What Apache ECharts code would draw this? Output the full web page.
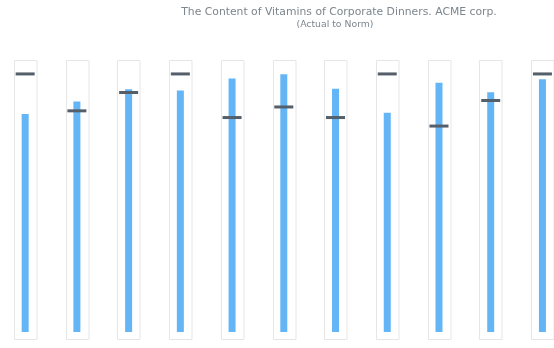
<!DOCTYPE html>
<html>
<head>
<meta charset="utf-8">
<script src="https://cdn.jsdelivr.net/npm/echarts@6/dist/echarts.min.js"></script>
<style>
  html, body { margin: 0; padding: 0; background: #fff; }
  #chart { width: 554px; height: 348px; }
</style>
</head>
<body>
<div id="chart"></div>
<script>
// Vitamin content of corporate dinners: actual amount vs. norm (percent of norm scale)
const vitamins = ['A', 'B1', 'B2', 'B6', 'B12', 'C', 'D', 'E', 'H', 'K', 'PP'];
const actual = [84.5, 89.3, 94.1, 93.6, 98.2, 99.9, 94.3, 85.0, 96.6, 92.9, 97.9];
const norm = [100, 85.7, 92.8, 100, 83.1, 87.2, 83.1, 100, 79.8, 89.7, 100];

const scaleMin = -3.1;
const scaleMax = 105.4;

const chart = echarts.init(document.getElementById('chart'), null, { renderer: 'canvas' });

chart.setOption({
  animation: false,
  backgroundColor: '#ffffff',
  title: [
    {
      text: 'The Content of Vitamins of Corporate Dinners. ACME corp.',
      left: 339,
      top: 7,
      textAlign: 'center',
      padding: 0,
      textStyle: { fontFamily: 'DejaVu Sans', fontSize: 10.8, fontWeight: 'normal', color: '#7c868e' }
    },
    {
      text: '(Actual to Norm)',
      left: 335,
      top: 20,
      textAlign: 'center',
      padding: 0,
      textStyle: { fontFamily: 'DejaVu Sans', fontSize: 9.3, fontWeight: 'normal', color: '#7c868e' }
    }
  ],
  grid: { left: -0.7, width: 569, top: 60, bottom: 8, outerBoundsMode: 'none' },
  xAxis: {
    type: 'category',
    data: vitamins,
    axisLine: { show: false },
    axisTick: { show: false },
    axisLabel: { show: false },
    splitLine: { show: false }
  },
  yAxis: {
    type: 'value',
    min: scaleMin,
    max: scaleMax,
    axisLine: { show: false },
    axisTick: { show: false },
    axisLabel: { show: false },
    splitLine: { show: false }
  },
  series: [
    {
      // frame around each bullet
      type: 'custom',
      z: 1,
      data: vitamins.map((v, i) => i),
      renderItem: function (params, api) {
        const i = api.value(0);
        const top = api.coord([i, scaleMax]);
        const bottom = api.coord([i, scaleMin]);
        const w = 22.5;
        return {
          type: 'rect',
          shape: { x: Math.round(top[0] - w / 2) + 0.5, y: top[1] + 0.5, width: w, height: bottom[1] - top[1] - 1 },
          style: { fill: '#ffffff', stroke: '#e6e6e6', lineWidth: 1 }
        };
      }
    },
    {
      type: 'bar',
      z: 2,
      data: actual,
      barWidth: 7,
      itemStyle: { color: '#64b5f6' }
    },
    {
      type: 'scatter',
      z: 3,
      data: norm,
      symbol: 'rect',
      symbolSize: [19, 3],
      itemStyle: { color: '#545f69', opacity: 1 }
    }
  ]
});
</script>
</body>
</html>
